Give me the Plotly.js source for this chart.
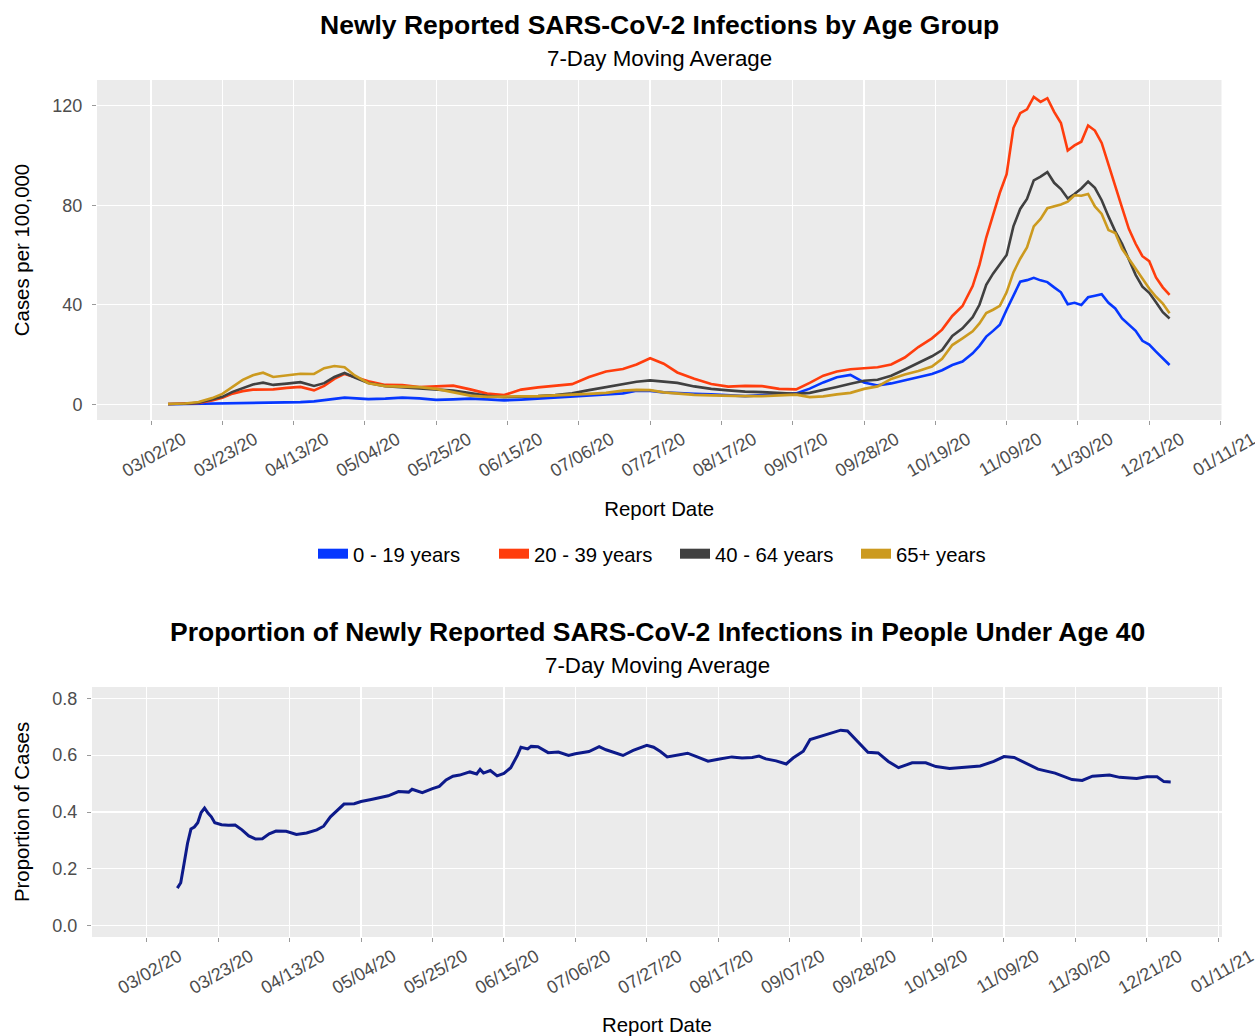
<!DOCTYPE html>
<html><head><meta charset="utf-8">
<script src="https://cdn.plot.ly/plotly-3.0.1.min.js"></script>
<style>body{margin:0;background:#fff}#chart{width:1255px;height:1036px}</style>
</head><body><div id="chart"></div><script>
// ---------- Data: top panel (cases per 100,000, 7-day moving average) ----------
const topDates = ['2020-03-07','2020-03-12','2020-03-16','2020-03-20','2020-03-23','2020-03-26','2020-03-29','2020-04-01','2020-04-04','2020-04-07','2020-04-11','2020-04-15','2020-04-19','2020-04-22','2020-04-25','2020-04-28','2020-05-01','2020-05-05','2020-05-10','2020-05-15','2020-05-20','2020-05-25','2020-05-30','2020-06-04',
'2020-06-09','2020-06-14','2020-06-19','2020-06-24','2020-06-29','2020-07-04','2020-07-09','2020-07-14','2020-07-19','2020-07-23','2020-07-27','2020-07-31','2020-08-04','2020-08-09','2020-08-14','2020-08-19','2020-08-24','2020-08-29','2020-09-03','2020-09-08','2020-09-12','2020-09-16','2020-09-20','2020-09-24',
'2020-09-28','2020-10-02','2020-10-06','2020-10-10','2020-10-14','2020-10-18','2020-10-21','2020-10-24','2020-10-27','2020-10-30','2020-11-01','2020-11-03','2020-11-05','2020-11-07','2020-11-09','2020-11-11','2020-11-13','2020-11-15','2020-11-17','2020-11-19','2020-11-21','2020-11-23','2020-11-25','2020-11-27','2020-11-29','2020-12-01','2020-12-03','2020-12-05','2020-12-07','2020-12-09','2020-12-11','2020-12-13','2020-12-15','2020-12-17','2020-12-19','2020-12-21','2020-12-23','2020-12-25','2020-12-27'];

const age0_19 = [0.0,0.1,0.2,0.3,0.4,0.5,0.6,0.7,0.7,0.7,0.7,0.9,1.2,1.6,2.2,2.7,2.4,2.1,2.3,2.7,2.4,1.8,2.0,2.3,
2.0,1.6,1.9,2.3,2.7,3.1,3.4,3.7,4.4,5.5,5.4,4.8,4.4,4.2,4.0,3.7,3.3,3.7,4.1,4.4,6.3,8.8,10.9,11.8,
8.8,7.6,8.4,9.7,10.8,12.2,13.7,15.8,17.2,20.5,23.5,27.2,29.5,32,38,43.4,49.3,49.9,50.8,49.8,49.1,47,45,40.2,40.8,39.9,43,43.6,44.2,40.8,38.5,34.5,32,29.5,25.5,24,21.2,18.5,15.8];

const age20_39 = [0.1,0.2,0.5,1.5,2.6,4.3,5.3,5.9,6.0,6.0,6.6,7.0,5.6,7.4,10.2,12.2,11.0,9.3,7.8,7.7,6.9,7.3,7.5,6.0,
4.3,3.7,5.9,6.8,7.4,8.1,11.0,13.2,14.2,16.0,18.5,16.3,12.8,10.3,8.2,7.1,7.4,7.3,6.2,6.0,8.6,11.5,13.2,14.1,
14.5,14.9,16.0,18.8,23.0,26.5,30.0,35.5,39.5,47.5,56,67,76,85,92.5,111,117,118.5,123.5,121.5,123,117.5,113,102,104,105.5,112,110,105,96,87,79,70.5,64.5,59.5,57.5,51,47,44];

const age40_64 = [0.1,0.2,0.6,1.8,3.0,5.0,6.6,8.0,8.7,7.8,8.3,8.9,7.4,8.5,11.0,12.6,10.8,8.6,7.3,6.9,6.5,6.0,5.5,4.5,
3.4,2.9,3.0,3.3,3.7,4.4,5.7,6.9,7.9,9.1,9.6,9.2,8.6,7.2,6.2,5.6,5.1,4.9,4.7,4.2,4.6,5.7,7.0,8.3,
9.5,9.9,11.5,14.0,16.5,19.3,21.8,27.5,30.5,35,40,48,52.5,56.5,60,71.5,78.5,82.5,90,91.5,93.3,89,86.5,82.7,84.5,86.7,89.5,87,82,75.5,69.5,64.5,58.5,52,47.3,44.8,41,37,34.5];

const age65plus = [0.1,0.3,0.9,2.5,4.2,7.0,9.8,11.7,12.7,11.0,11.6,12.3,12.2,14.5,15.4,14.9,11.6,8.5,7.3,7.1,6.9,6.2,4.8,3.5,
3.0,3.0,3.1,3.3,3.6,3.8,4.2,4.6,5.5,5.8,5.7,4.8,4.3,3.8,3.6,3.3,3.3,3.3,3.7,3.9,2.9,3.2,4.0,4.6,
6.2,7.2,10.2,12.0,13.4,15.2,18.3,23.8,26.5,29.3,32.5,36.7,38,39.6,45,53,58.5,63,71.5,74.5,78.8,79.5,80.3,81.4,84,83.8,84.5,79.5,76.5,70,68.8,62.5,58.5,54,50.5,46.5,43.2,40.5,36.6];

const groupNames = ['0 - 19 years','20 - 39 years','40 - 64 years','65+ years'];
const groupColors = ['#0637FF','#FF3D0D','#404040','#CC9A1F'];

// ---------- Data: bottom panel (proportion under age 40) ----------
const propDates = ['2020-03-11','2020-03-12','2020-03-13','2020-03-14','2020-03-15','2020-03-16','2020-03-17','2020-03-18','2020-03-19','2020-03-20','2020-03-21','2020-03-22','2020-03-24','2020-03-26','2020-03-28','2020-03-30',
'2020-04-01','2020-04-03','2020-04-05','2020-04-07','2020-04-09','2020-04-12','2020-04-15','2020-04-18','2020-04-21','2020-04-23','2020-04-25','2020-04-27','2020-04-29',
'2020-05-02','2020-05-04','2020-05-07','2020-05-10','2020-05-12','2020-05-15','2020-05-18','2020-05-19','2020-05-22','2020-05-25','2020-05-27','2020-05-29','2020-05-31',
'2020-06-02','2020-06-05','2020-06-07','2020-06-08','2020-06-09','2020-06-11','2020-06-13','2020-06-15','2020-06-17','2020-06-19','2020-06-20','2020-06-22','2020-06-23','2020-06-25','2020-06-28',
'2020-07-01','2020-07-04','2020-07-06','2020-07-10','2020-07-13','2020-07-15','2020-07-18','2020-07-20','2020-07-23','2020-07-27','2020-07-29','2020-07-31',
'2020-08-02','2020-08-05','2020-08-08','2020-08-11','2020-08-14','2020-08-17','2020-08-21','2020-08-24','2020-08-27','2020-08-29','2020-08-31',
'2020-09-03','2020-09-06','2020-09-08','2020-09-11','2020-09-13','2020-09-16','2020-09-19','2020-09-22','2020-09-24','2020-09-27','2020-09-30',
'2020-10-03','2020-10-06','2020-10-09','2020-10-13','2020-10-17','2020-10-20','2020-10-24','2020-10-28',
'2020-11-02','2020-11-06','2020-11-09','2020-11-12','2020-11-16','2020-11-19','2020-11-24','2020-11-29',
'2020-12-02','2020-12-05','2020-12-10','2020-12-13','2020-12-18','2020-12-21','2020-12-24','2020-12-26','2020-12-28'];

const propUnder40 = [0.132,0.151,0.22,0.29,0.340,0.347,0.362,0.398,0.414,0.396,0.383,0.362,0.355,0.353,0.354,0.337,
0.316,0.305,0.306,0.323,0.333,0.332,0.321,0.326,0.337,0.350,0.383,0.404,0.428,
0.429,0.437,0.444,0.452,0.457,0.472,0.470,0.480,0.468,0.482,0.490,0.513,0.526,
0.530,0.541,0.534,0.550,0.537,0.546,0.527,0.536,0.556,0.600,0.628,0.622,0.631,0.630,0.609,
0.611,0.599,0.605,0.613,0.630,0.619,0.607,0.599,0.617,0.635,0.628,0.613,
0.594,0.600,0.607,0.593,0.579,0.586,0.594,0.590,0.592,0.597,0.587,
0.580,0.569,0.590,0.614,0.655,0.666,0.679,0.688,0.685,0.648,0.610,
0.608,0.578,0.556,0.573,0.573,0.560,0.553,0.557,
0.562,0.578,0.595,0.592,0.570,0.551,0.537,0.514,
0.511,0.526,0.530,0.522,0.518,0.524,0.524,0.507,0.506];

const topYTicks = [0,40,80,120];
const botYTicks = [0,0.2,0.4,0.6,0.8];
const xTick0 = '2020-03-02';

// ---------- Build ----------
const W = 1255, H = 1036;
const FONT = 'Liberation Sans, Arial, Helvetica, sans-serif';
const fx = p => p / W;
const fy = p => 1 - p / H;

const series = [age0_19, age20_39, age40_64, age65plus];
const traces = [];
series.forEach((vals, i) => {
  traces.push({type:'scatter', mode:'lines', x: topDates, y: vals, xaxis:'x', yaxis:'y',
    name: groupNames[i], showlegend:false, line:{color: groupColors[i], width:2.6}, hoverinfo:'x+y+name'});
});
// legend keys (no data, just wide swatches)
groupNames.forEach((n, i) => {
  traces.push({type:'scatter', mode:'lines', x:[null], y:[null], xaxis:'x', yaxis:'y',
    name: n, showlegend:true, line:{color: groupColors[i], width:16}, hoverinfo:'skip'});
});
traces.push({type:'scatter', mode:'lines', x: propDates, y: propUnder40, xaxis:'x2', yaxis:'y2',
  name:'Proportion under 40', showlegend:false, line:{color:'#0D1A8A', width:3}});

const xCommon = {
  type:'date', tick0: xTick0, dtick: 21*86400000, tickformat:'%m/%d/%y', tickangle:-30,
  ticks:'outside', ticklen:4, tickcolor:'#9a9a9a', tickwidth:1,
  tickfont:{size:18, color:'#4D4D4D', family:FONT}, ticklabelshift: 32, ticklabelstandoff: -3,
  ticklabeloverflow:'allow',
  showgrid:true, gridcolor:'#FFFFFF', gridwidth:1.3, zeroline:false, showline:false
};
const yCommon = {
  ticks:'outside', ticklen:4, tickcolor:'#9a9a9a', tickwidth:1,
  tickfont:{size:18, color:'#4D4D4D', family:FONT}, ticklabelstandoff: 6,
  showgrid:true, gridcolor:'#FFFFFF', gridwidth:1.3, zeroline:false, showline:false
};

const layout = {
  width:W, height:H, margin:{l:0, r:0, t:0, b:0},
  paper_bgcolor:'#FFFFFF', plot_bgcolor:'#EBEBEB',
  font:{family:FONT, color:'#000'},
  showlegend:true,
  legend:{orientation:'h', x: fx(313), xanchor:'left', y: fy(554), yanchor:'middle',
    font:{size:20.3, color:'#000', family:FONT}, entrywidth:136, bgcolor:'rgba(0,0,0,0)', traceorder:'normal'},
  xaxis: Object.assign({}, xCommon, {domain:[fx(97), fx(1221.5)], anchor:'y',
    range:['2020-02-15 02:00', '2021-01-11 07:00'],
    title:{text:'Report Date', font:{size:20.4, color:'#000', family:FONT}, standoff:21}}),
  yaxis: Object.assign({}, yCommon, {domain:[fy(420), fy(80)], anchor:'x', range:[-6.3, 130.3],
    tickvals: topYTicks, ticktext: topYTicks.map(String),
    title:{text:'Cases per 100,000', font:{size:20.4, color:'#000', family:FONT}, standoff:17}}),
  xaxis2: Object.assign({}, xCommon, {domain:[fx(92), fx(1222)], anchor:'y2',
    range:['2020-02-14 22:00', '2021-01-12 02:00'],
    title:{text:'Report Date', font:{size:20.4, color:'#000', family:FONT}, standoff:24}}),
  yaxis2: Object.assign({}, yCommon, {domain:[fy(937), fy(687)], anchor:'x2', range:[-0.04, 0.84],
    tickvals: botYTicks, ticktext: botYTicks.map(v => v.toFixed(1)),
    title:{text:'Proportion of Cases', font:{size:20.4, color:'#000', family:FONT}, standoff:17}}),
  annotations:[
    {xref:'paper', yref:'paper', x: fx(659), y: fy(25), xanchor:'center', yanchor:'middle', showarrow:false,
     text:'<b>Newly Reported SARS-CoV-2 Infections by Age Group</b>', font:{size:26.5, color:'#000', family:FONT}},
    {xref:'paper', yref:'paper', x: fx(659), y: fy(58), xanchor:'center', yanchor:'middle', showarrow:false,
     text:'7-Day Moving Average', font:{size:22.3, color:'#000', family:FONT}},
    {xref:'paper', yref:'paper', x: fx(657), y: fy(632), xanchor:'center', yanchor:'middle', showarrow:false,
     text:'<b>Proportion of Newly Reported SARS-CoV-2 Infections in People Under Age 40</b>', font:{size:26.5, color:'#000', family:FONT}},
    {xref:'paper', yref:'paper', x: fx(657), y: fy(665), xanchor:'center', yanchor:'middle', showarrow:false,
     text:'7-Day Moving Average', font:{size:22.3, color:'#000', family:FONT}}
  ]
};

Plotly.newPlot('chart', traces, layout, {staticPlot:true, displayModeBar:false});
</script></body></html>
